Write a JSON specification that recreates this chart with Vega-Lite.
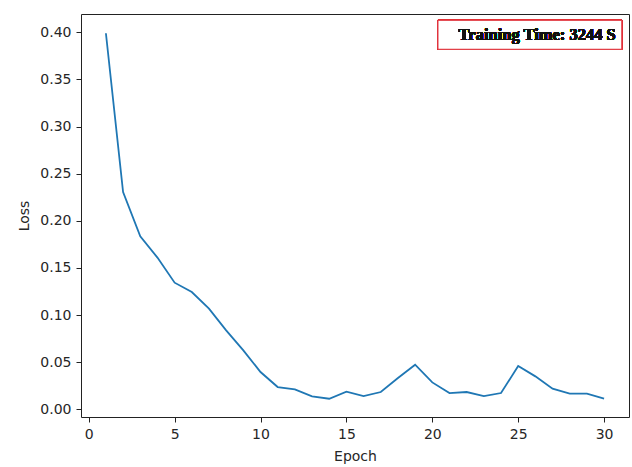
{
  "$schema": "https://vega.github.io/schema/vega-lite/v6.json",
  "autosize": {"type": "none"},
  "padding": {"left": 81, "top": 14, "right": 3, "bottom": 50},
  "width": 548,
  "height": 403,
  "background": "white",
  "config": {
    "view": {"stroke": "#222222", "strokeWidth": 1},
    "axis": {
      "grid": false,
      "domain": false,
      "tickColor": "#222222",
      "tickSize": 5,
      "labelFont": "DejaVu Sans",
      "labelFontSize": 14,
      "labelColor": "#262626",
      "titleFont": "DejaVu Sans",
      "titleFontSize": 14,
      "titleFontWeight": "normal",
      "titleColor": "#262626"
    }
  },
  "data": {
    "values": [
      {"epoch": 1, "loss": 0.399},
      {"epoch": 2, "loss": 0.2306},
      {"epoch": 3, "loss": 0.1836},
      {"epoch": 4, "loss": 0.161},
      {"epoch": 5, "loss": 0.1344},
      {"epoch": 6, "loss": 0.1245},
      {"epoch": 7, "loss": 0.1068},
      {"epoch": 8, "loss": 0.0838},
      {"epoch": 9, "loss": 0.0626},
      {"epoch": 10, "loss": 0.0396},
      {"epoch": 11, "loss": 0.0237},
      {"epoch": 12, "loss": 0.0212},
      {"epoch": 13, "loss": 0.0138},
      {"epoch": 14, "loss": 0.0113},
      {"epoch": 15, "loss": 0.0188},
      {"epoch": 16, "loss": 0.0141},
      {"epoch": 17, "loss": 0.0184},
      {"epoch": 18, "loss": 0.0332},
      {"epoch": 19, "loss": 0.0474},
      {"epoch": 20, "loss": 0.0286},
      {"epoch": 21, "loss": 0.0173},
      {"epoch": 22, "loss": 0.0184},
      {"epoch": 23, "loss": 0.0141},
      {"epoch": 24, "loss": 0.0173},
      {"epoch": 25, "loss": 0.046},
      {"epoch": 26, "loss": 0.035},
      {"epoch": 27, "loss": 0.0219},
      {"epoch": 28, "loss": 0.0166},
      {"epoch": 29, "loss": 0.0166},
      {"epoch": 30, "loss": 0.0113}
    ]
  },
  "layer": [
    {
      "mark": {"type": "line", "color": "#1f77b4", "strokeWidth": 1.8},
      "encoding": {
        "x": {
          "field": "epoch", "type": "quantitative", "title": "Epoch",
          "scale": {"domain": [-0.45, 31.45], "nice": false, "zero": false},
          "axis": {"values": [0, 5, 10, 15, 20, 25, 30], "labelPadding": 5, "titlePadding": 8}
        },
        "y": {
          "field": "loss", "type": "quantitative", "title": "Loss",
          "scale": {"domain": [-0.0081, 0.4194], "nice": false, "zero": false},
          "axis": {"values": [0, 0.05, 0.1, 0.15, 0.2, 0.25, 0.3, 0.35, 0.4], "format": ".2f", "labelPadding": 5, "titlePadding": 8}
        }
      }
    },
    {
      "mark": {"type": "rect", "fill": "white", "stroke": "#e0303a", "strokeWidth": 1},
      "encoding": {
        "x": {"datum": 20.33, "type": "quantitative"},
        "x2": {"datum": 31.03},
        "y": {"datum": 0.4127, "type": "quantitative"},
        "y2": {"datum": 0.382}
      }
    },
    {
      "mark": {"type": "text", "text": "Training Time: 3244 S", "font": "Liberation Serif", "fontWeight": "bold", "fontSize": 16.5, "color": "#111111", "align": "right", "baseline": "middle"},
      "encoding": {
        "x": {"datum": 30.68, "type": "quantitative"},
        "y": {"datum": 0.3973, "type": "quantitative"}
      }
    }
  ]
}
